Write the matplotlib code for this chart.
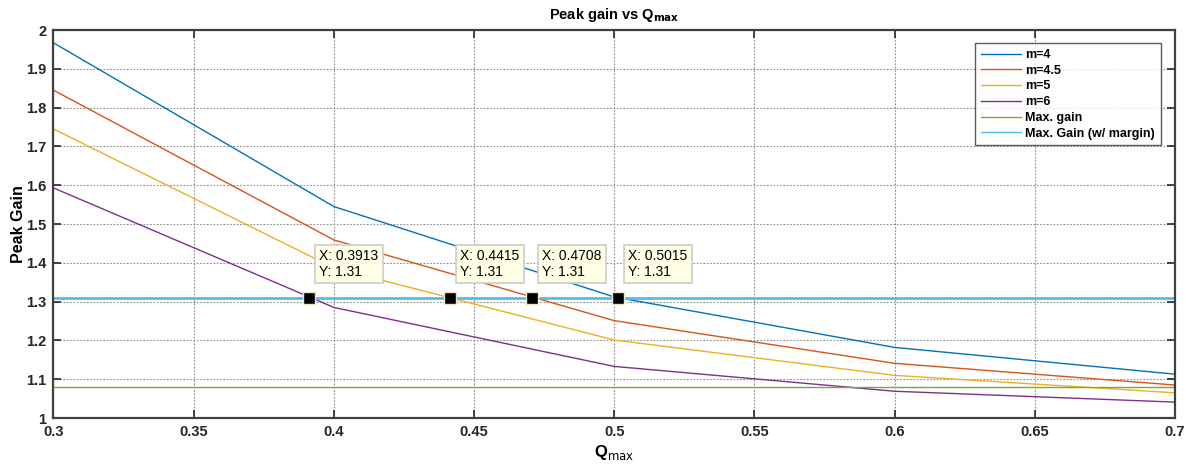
import matplotlib
matplotlib.use("Agg")
import matplotlib.pyplot as plt

plt.rcParams['font.family'] = ['Liberation Sans', 'DejaVu Sans']

q = [0.3, 0.4, 0.5, 0.6, 0.7]
m4 = [1.967, 1.545, 1.312, 1.182, 1.113]
m45 = [1.845, 1.459, 1.251, 1.141, 1.085]
m5 = [1.745, 1.387, 1.201, 1.110, 1.065]
m6 = [1.593, 1.285, 1.133, 1.069, 1.041]
max_gain = 1.08
max_gain_margin = 1.31
tip_x = [0.3913, 0.4415, 0.4708, 0.5015]
tip_y = [1.31, 1.31, 1.31, 1.31]
series_labels = ["m=4", "m=4.5", "m=5", "m=6"]
xticks = [0.3, 0.35, 0.4, 0.45, 0.5, 0.55, 0.6, 0.65, 0.7]
yticks = [1, 1.1, 1.2, 1.3, 1.4, 1.5, 1.6, 1.7, 1.8, 1.9, 2]

colors = ['#0072BD', '#D95319', '#EDB120', '#7E2F8E', '#77AC30', '#4DBEEE']

fig = plt.figure(figsize=(11.86, 4.69), dpi=100)
ax = fig.add_axes([0.0451, 0.1087, 0.9456, 0.8273])

for ys, lab, c in zip([m4, m45, m5, m6], series_labels, colors[:4]):
    ax.plot(q, ys, color=c, lw=1.0, label=lab)
ax.axhline(max_gain, color=colors[4], lw=1.0, label="Max. gain")
ax.axhline(max_gain_margin, color=colors[5], lw=2.0, label="Max. Gain (w/ margin)")

ax.set_xlim(0.3, 0.7)
ax.set_ylim(1, 2)
ax.set_xticks(xticks)
ax.set_yticks(yticks)
ax.set_xticklabels([f"{t:g}" for t in xticks], fontweight='bold', fontsize=10.5, color='#262626')
ax.set_yticklabels([f"{t:g}" for t in yticks], fontweight='bold', fontsize=10.5, color='#262626')
ax.tick_params(direction='in', length=6, width=1.2, top=True, right=True, colors='#262626', pad=5)
ax.grid(True, color='#8c8c8c', linestyle=(0, (1.5, 1.5)), lw=0.8)
for s in ax.spines.values():
    s.set_linewidth(1.6)
    s.set_color('#404040')

ax.set_title(r"Peak gain vs Q$_{\mathbf{max}}$", fontweight='bold', fontsize=10.5, pad=8)
ax.set_xlabel(r"Q$_{\mathrm{max}}$", fontweight='bold', fontsize=12, labelpad=3)
ax.set_ylabel("Peak Gain", fontweight='bold', fontsize=11.5, labelpad=0)

for x, y in zip(tip_x, tip_y):
    ax.plot([x], [y], marker='s', ms=8, color='black', mec='#E8E8C8', mew=1.0, zorder=5)
    ax.annotate(f"X: {x:.4f}\nY: {y:.2f}", xy=(x, y), xytext=(10, 19),
                textcoords='offset pixels', fontsize=10, ha='left', va='bottom',
                linespacing=1.15,
                bbox=dict(boxstyle='square,pad=0.3', fc='#FFFFE6', ec='#CCCCCC', lw=1.2),
                zorder=6)

leg = ax.legend(loc='upper right', bbox_to_anchor=(0.9930, 0.9820),
                prop={'weight': 'bold', 'size': 9}, frameon=True, fancybox=False,
                handlelength=3.2, handletextpad=0.35, labelspacing=0.3, borderpad=0.45)
leg.get_frame().set_edgecolor('#333333')
leg.get_frame().set_linewidth(1.0)
for h in leg.get_lines():
    h.set_linewidth(1.0)

fig.savefig("out.png", dpi=100)
